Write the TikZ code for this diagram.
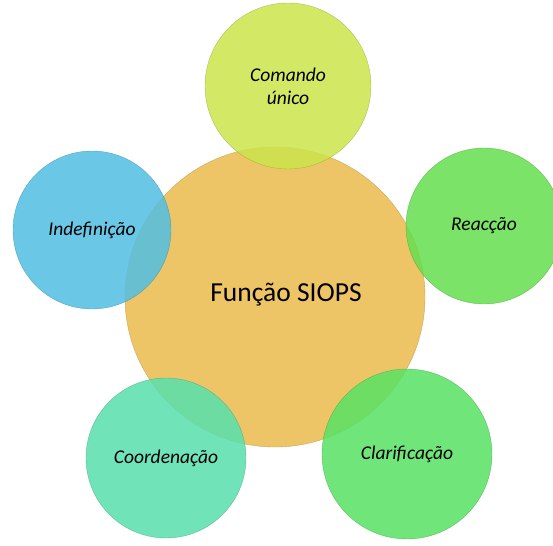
\documentclass[tikz,border=0pt]{standalone}
\usepackage{fontspec}
\setmainfont{Carlito}
\usepackage{xcolor}
\definecolor{hubfill}{HTML}{EEC566}
\definecolor{cmdfill}{HTML}{CCE44C}
\definecolor{indeffill}{HTML}{52BFE2}
\definecolor{reacfill}{HTML}{66DE50}
\definecolor{coordfill}{HTML}{58E0AC}
\definecolor{clarfill}{HTML}{58E264}
\usetikzlibrary{positioning}

\begin{document}
\begin{tikzpicture}[x=1pt,y=-1pt,
  hub/.style={circle,inner sep=0pt,minimum size=300pt,fill=hubfill,draw=hubfill!85!black,
    line width=0.4pt},
  sat/.style={circle,inner sep=0pt,minimum size=#1,fill opacity=0.86,text opacity=1,
    draw opacity=0.6,line width=0.4pt,align=center,font=\fontsize{19.5}{23}\selectfont\itshape}]
  \useasboundingbox (0,0) rectangle (553,545);
  % central circle
  \node[hub] (siops) at (275,297) {};
  \node[font=\fontsize{27.5}{32}\selectfont] (siopstext) at (286,295) {Função SIOPS};
  % satellites
  \node[sat=166pt,fill=cmdfill,draw=cmdfill!70!black] (cmd) at (288,86) {Comando\\único};
  \node[sat=158pt,fill=indeffill,draw=indeffill!70!black] (indef) at (92,230) {Indefinição};
  \node[sat=156pt,fill=reacfill,draw=reacfill!70!black] (reac) at (484,226) {Reacção};
  \node[sat=160pt,fill=coordfill,draw=coordfill!70!black] (coord) at (166,458) {Coordenação};
  \node[sat=170pt,fill=clarfill,draw=clarfill!70!black] (clar) at (407,454) {Clarificação};
\end{tikzpicture}
\end{document}
